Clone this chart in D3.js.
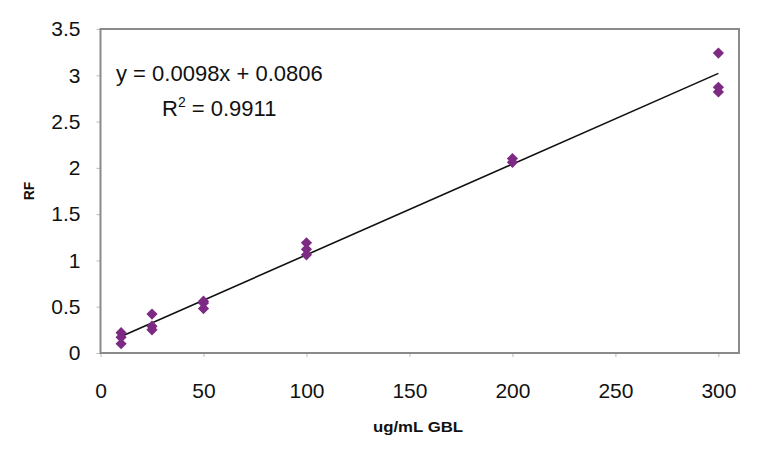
<!DOCTYPE html>
<html><head><meta charset="utf-8">
<script src="https://cdn.jsdelivr.net/npm/d3@7"></script>
<style>body{margin:0;background:#fff}svg{display:block}</style>
</head><body>
<svg id="c" width="768" height="452"></svg>
<script>
const xValues = [10,10,10,25,25,25,50,50,50,100,100,100,200,200,300,300,300];
const yValues = [0.22,0.17,0.10,0.42,0.29,0.25,0.56,0.54,0.48,1.19,1.12,1.06,2.10,2.06,3.24,2.87,2.82];
const xTicks = [0,50,100,150,200,250,300];
const yTicks = [0,0.5,1,1.5,2,2.5,3,3.5];
const slope = 0.0098, intercept = 0.0806, r2 = "0.9911";
const xTitle = "ug/mL GBL", yTitle = "RF";

const svg = d3.select("#c");
const L=100.5, R=739, T=29, B=353;
const x = d3.scaleLinear().domain([0,310]).range([L,R]);
const y = d3.scaleLinear().domain([0,3.5]).range([B,T]);
const font = "'Liberation Sans', Arial, sans-serif";

// axes
const xa = svg.append("g").attr("transform",`translate(0,${B})`)
  .call(d3.axisBottom(x).tickValues(xTicks).tickSize(4).tickPadding(26).tickFormat(d3.format("d")));
const ya = svg.append("g").attr("transform",`translate(${L},0)`)
  .call(d3.axisLeft(y).tickValues(yTicks).tickSize(4).tickPadding(16).tickFormat(d=>String(d)));
[xa,ya].forEach(a=>{
  a.select(".domain").remove();
  a.selectAll(".tick line").attr("stroke","#bbb");
  a.selectAll("text").attr("font-family",font).attr("font-size",21).attr("fill","#111");
});

// frame
svg.append("rect").attr("x",L).attr("y",T).attr("width",R-L).attr("height",B-T)
  .attr("fill","none").attr("stroke","#8a8a8a").attr("stroke-width",2);

// trendline
const xs=[d3.min(xValues), d3.max(xValues)];
svg.append("line").attr("x1",x(xs[0])).attr("y1",y(slope*xs[0]+intercept))
  .attr("x2",x(xs[1])).attr("y2",y(slope*xs[1]+intercept))
  .attr("stroke","#111").attr("stroke-width",1.6);

// points
svg.append("g").selectAll("path").data(xValues.map((v,i)=>[v,yValues[i]])).join("path")
  .attr("d",d3.symbol(d3.symbolDiamond2,80)())
  .attr("transform",d=>`translate(${x(d[0])},${y(d[1])})`)
  .attr("fill","#7d2a85");

// equation
svg.append("text").attr("x",116).attr("y",81).attr("font-family",font).attr("font-size",22).attr("fill","#111")
  .text(`y = ${slope}x + ${intercept}`);
const t2 = svg.append("text").attr("x",162).attr("y",116).attr("font-family",font).attr("font-size",22).attr("fill","#111");
t2.append("tspan").text("R");
t2.append("tspan").attr("font-size",14).attr("dy",-9).text("2");
t2.append("tspan").attr("dy",9).text(` = ${r2}`);

// titles
svg.append("g").attr("transform",`translate(418,432) scale(1.2,1)`)
  .append("text").attr("text-anchor","middle")
  .attr("font-family",font).attr("font-size",14).attr("font-weight","bold").attr("fill","#111").text(xTitle);
svg.append("text").attr("transform",`translate(34,${(T+B)/2}) rotate(-90)`).attr("text-anchor","middle")
  .attr("font-family",font).attr("font-size",14).attr("font-weight","bold").attr("fill","#111").text(yTitle);
</script>
</body></html>
